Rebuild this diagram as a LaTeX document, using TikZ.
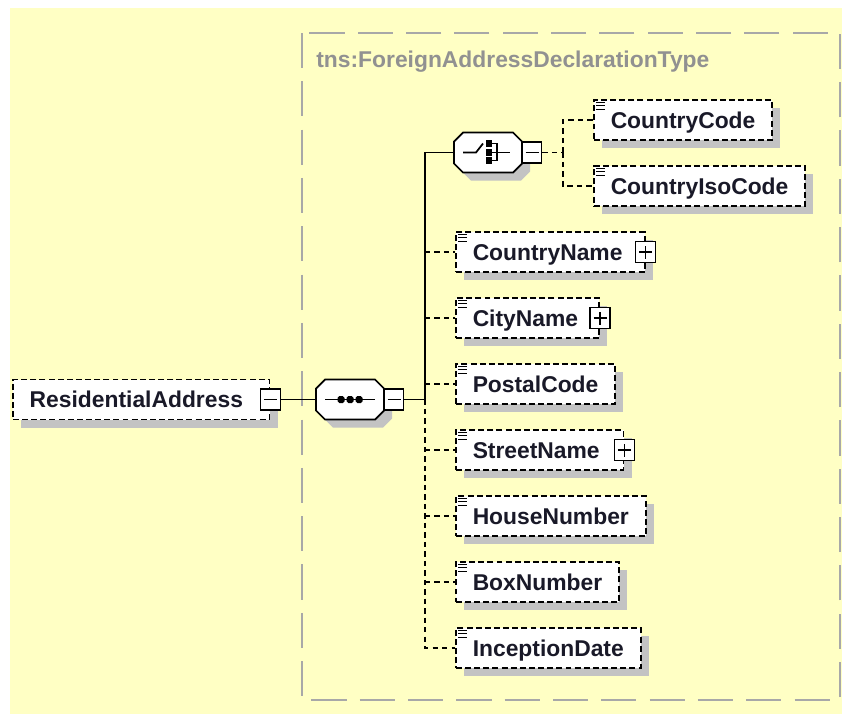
\documentclass[tikz,border=0pt]{standalone}
\usepackage{fontspec}
\setmainfont{Liberation Sans}
\usetikzlibrary{shadows}
\definecolor{bgyellow}{RGB}{255,255,196}
\definecolor{framegray}{RGB}{168,168,168}
\definecolor{titlegray}{RGB}{145,145,145}
\definecolor{shadowgray}{RGB}{195,195,195}
\definecolor{labelink}{RGB}{25,25,40}
\newcommand{\trunkx}{425}
\newcommand{\forkx}{563}

\begin{document}
\begin{tikzpicture}[x=0.02cm,y=-0.02cm,
  shade/.style={drop shadow={opacity=1,fill=shadowgray,shadow xshift=0.16cm,shadow yshift=-0.16cm}},
  elem/.style={draw,shade,fill=white,line width=1pt,dash pattern=on 3.4pt off 1.8pt,
    minimum height=0.8cm,inner xsep=9.6pt,anchor=west,text=labelink,text height=11pt,text depth=1.7pt,
    font=\fontsize{13}{15}\selectfont\bfseries},
  compositor/.style={minimum width=1.36cm,minimum height=0.8cm,inner sep=0pt},
  octagon/.style={draw,shade,fill=white,line width=1pt},
  toggle/.style={draw,fill=white,line width=0.9pt,minimum width=0.4cm,minimum height=0.42cm,inner sep=0pt},
  minus/.style={toggle,path picture={
    \draw[line width=1pt] ([xshift=-0.13cm]path picture bounding box.center) -- ([xshift=0.13cm]path picture bounding box.center);}},
  plus/.style={toggle,path picture={
    \draw[line width=1pt] ([xshift=-0.13cm]path picture bounding box.center) -- ([xshift=0.13cm]path picture bounding box.center);
    \draw[line width=1pt] ([yshift=-0.13cm]path picture bounding box.center) -- ([yshift=0.13cm]path picture bounding box.center);}},
  solidlink/.style={line width=1pt},
  dashlink/.style={line width=1pt,dash pattern=on 3pt off 2.4pt},
  icon/.style={line width=0.7pt}]

  \useasboundingbox (0,0) rectangle (842,714);
  \fill[white] (0,0) rectangle (842,714);
  \fill[bgyellow] (10,8) rectangle (842,714);

  % complex type frame
  \draw[framegray,line width=1.1pt,dash pattern=on 20pt off 7.5pt] (302,33) rectangle (840,700);
  \node[anchor=west,text=titlegray,font=\fontsize{13}{15}\selectfont\bfseries,inner sep=0pt] (typename) at (316,62) {tns:ForeignAddressDeclarationType};

  % root element
  \node[elem] (resaddr) at (12,399.5) {ResidentialAddress\hspace*{5.5pt}};
  \node[minus] (resaddr-tg) at (resaddr.east) {};

  % sequence
  \node[compositor] (seq) at (350,399.5) {};
  \begin{scope}[shift={(seq.center)}]
    \draw[octagon] (-34,-11) -- (-25,-20) -- (25,-20) -- (34,-11) -- (34,11) -- (25,20) -- (-25,20) -- (-34,11) -- cycle;
    \draw[line width=1pt] (-25,0) -- (25,0);
    \foreach \d in {-9,0,9}
      \fill[rounded corners=1pt] (\d-3.5,-3.5) rectangle (\d+3.5,3.5);
  \end{scope}
  \node[minus,minimum width=0.38cm] (seq-tg) at (394,399.5) {};

  % choice
  \node[compositor] (choice) at (488,152.5) {};
  \begin{scope}[shift={(choice.center)}]
    \draw[octagon] (-34,-11) -- (-25,-20) -- (25,-20) -- (34,-11) -- (34,11) -- (25,20) -- (-25,20) -- (-34,11) -- cycle;
    \draw[line width=1pt] (-25,0) -- (-12,0) -- (-5,-9);
    \draw[line width=1pt] (1,-9) -- (9,-9) -- (9,8) -- (1,8);
    \draw[line width=1pt] (1,0) -- (22,0);
    \foreach \d in {-9,0,8}
      \fill (-2.5,\d-3.5) rectangle (4,\d+3.5);
  \end{scope}
  \node[minus,minimum width=0.38cm] (choice-tg) at (532,152.5) {};

  % choice members
  \node[elem] (CountryCode) at (593,120) {CountryCode};
  \node[elem] (CountryIsoCode) at (593,186) {CountryIsoCode};

  % sequence members
  \foreach \name/\y/\pad in {CountryName/252/3pt,CityName/318/2.5pt,PostalCode/384/0pt,
      StreetName/450/4pt,HouseNumber/516/0pt,BoxNumber/582/0pt,InceptionDate/648/0pt}
    \node[elem] (\name) at (455,\y) {\name\hspace*{\pad}};
  \foreach \name in {CountryName,CityName,StreetName}
    \node[plus] (\name-tg) at (\name.east) {};

  % simple type marks
  \foreach \name in {CountryCode,CountryIsoCode,CountryName,CityName,PostalCode,StreetName,HouseNumber,BoxNumber,InceptionDate}{
    \begin{scope}[shift={(\name.north west)}]
      \foreach \k in {3,6.5,10}
        \draw[icon] (3,\k) -- (12,\k);
    \end{scope}
  }

  % connectors
  \coordinate (trunk) at (\trunkx,399.5);
  \coordinate (fork) at (\forkx,152.5);
  \draw[solidlink] (resaddr-tg.east) -- (seq.west);
  \draw[solidlink] (seq-tg.east) -- (trunk) |- (choice.west);
  \draw[dashlink] (trunk) |- (InceptionDate.west);
  \foreach \name in {CountryName,CityName,PostalCode,StreetName,HouseNumber,BoxNumber}
    \draw[dashlink] (\name.west -| trunk) -- (\name.west);
  \draw[dashlink] (choice-tg.east) -- (fork);
  \draw[dashlink] (fork) |- (CountryCode.west);
  \draw[dashlink] (fork) |- (CountryIsoCode.west);

\end{tikzpicture}
\end{document}
